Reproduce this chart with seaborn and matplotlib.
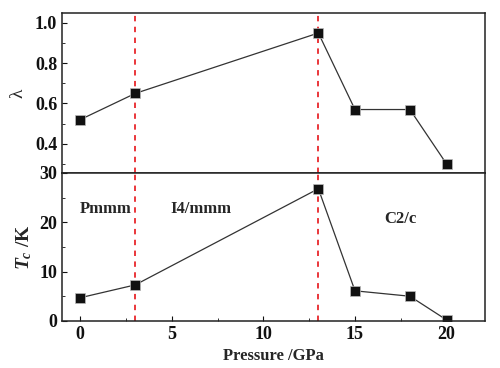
import numpy as np
import pandas as pd
import matplotlib.pyplot as plt
import seaborn as sns
from matplotlib.ticker import MultipleLocator

sns.set_style("ticks")
plt.rcParams['font.family'] = ['Liberation Serif', 'DejaVu Serif']
plt.rcParams['mathtext.fontset'] = 'custom'
plt.rcParams['mathtext.it'] = 'Liberation Serif:italic:bold'
plt.rcParams['mathtext.rm'] = 'Liberation Serif:bold'

# data
pressure = [0, 3, 13, 15, 18, 20]
lam = [0.52, 0.65, 0.95, 0.57, 0.57, 0.30]
tc = [4.7, 7.3, 26.8, 6.1, 5.0, 0.2]
boundaries = [3, 13]
phases = ['Pmmm', 'I4/mmm', 'C2/c']
phase_x = [1.4, 6.6, 17.5]
phase_y = [22.6, 22.6, 20.6]

df = pd.DataFrame({'P': pressure, 'lam': lam, 'Tc': tc})

fig = plt.figure(figsize=(5, 3.68), dpi=100)
ax1 = fig.add_axes([0.124, 0.53, 0.846, 0.435])
ax2 = fig.add_axes([0.124, 0.128, 0.846, 0.402], sharex=ax1)

for ax, col in [(ax1, 'lam'), (ax2, 'Tc')]:
    sns.lineplot(data=df, x='P', y=col, ax=ax, color='#333333', lw=0.9,
                 marker='s', markersize=6.5, markerfacecolor='#111111',
                 markeredgecolor='#bbbbbb', markeredgewidth=0.5)
    for b in boundaries:
        ax.axvline(b, color='#e8262b', ls=(0, (3, 3)), lw=1.3, zorder=0)
    for sp in ax.spines.values():
        sp.set_linewidth(1.1)
        sp.set_color('#222222')
    ax.tick_params(direction='in', which='both', labelsize=13, colors='#111111')

ax1.set_xlim(-1, 22.1)
ax1.set_ylim(0.255, 1.05)
ax1.yaxis.set_minor_locator(MultipleLocator(0.1))
ax1.set_yticks([0.4, 0.6, 0.8, 1.0])
ax1.set_yticklabels(['0.4', '0.6', '0.8', '1.0'], fontweight='bold')
ax1.tick_params(axis='x', which='both', bottom=False, labelbottom=False)
ax1.set_xlabel('')
ax1.set_ylabel('λ', fontsize=14, labelpad=6)

ax2.set_ylim(0, 30)
ax2.set_yticks([0, 10, 20, 30])
ax2.set_yticklabels(['0', '10', '20', '30'], fontweight='bold')
ax2.yaxis.set_minor_locator(MultipleLocator(5))
ax2.set_xticks([0, 5, 10, 15, 20])
ax2.set_xticklabels(['0', '5', '10', '15', '20'], fontweight='bold')
ax2.xaxis.set_minor_locator(MultipleLocator(2.5))
ax2.set_xlabel('Pressure /GPa', fontsize=12, fontweight='bold')
ax2.set_ylabel(r'$T_c$ /K', fontsize=14, fontweight='bold', labelpad=4)

for name, x, y in zip(phases, phase_x, phase_y):
    ax2.text(x, y, name, fontsize=12, fontweight='bold', ha='center', va='center')

fig.savefig('out.png', dpi=100)
